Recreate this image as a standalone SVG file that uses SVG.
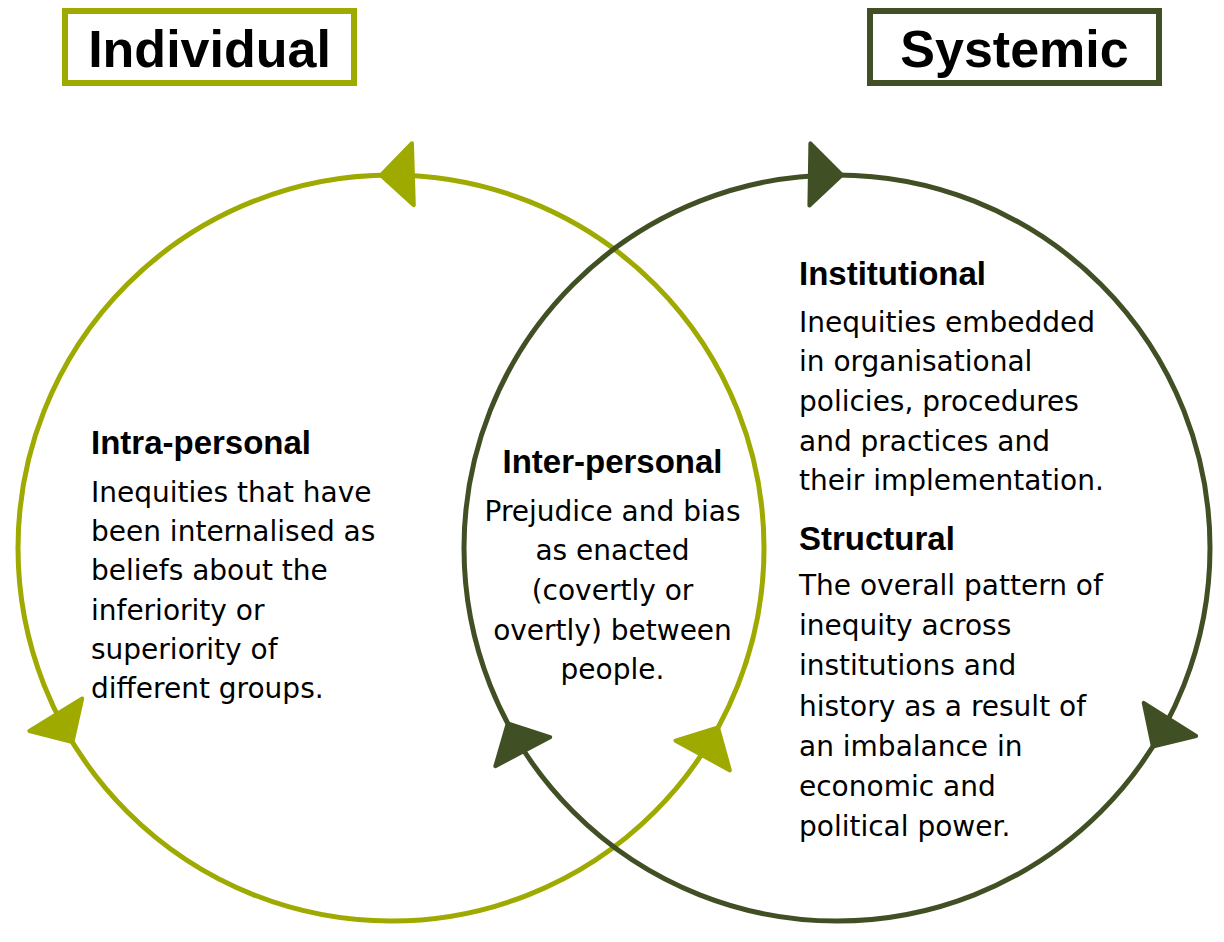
<svg xmlns="http://www.w3.org/2000/svg" xmlns:xlink="http://www.w3.org/1999/xlink" width="1224" height="942" viewBox="0 0 1224 942">
  <style>
    .title { font-family: "Liberation Sans", Arial, sans-serif; font-weight: bold; font-size: 52px; fill: #000; text-anchor: middle; }
    .head { font-family: "Liberation Sans", Arial, sans-serif; font-weight: bold; font-size: 33px; fill: #000; }
    .body { font-family: "DejaVu Sans", "Liberation Sans", sans-serif; font-size: 28px; fill: #000; }
    .mid { text-anchor: middle; }
    .light { stroke: #9FAA00; }
    .dark { stroke: #404F24; }
    .ring { fill: none; stroke-width: 5; }
    .ahL { fill: #9FAA00; stroke: #9FAA00; stroke-width: 4; stroke-linejoin: round; }
    .ahD { fill: #404F24; stroke: #404F24; stroke-width: 4; stroke-linejoin: round; }
  </style>
  <defs>
    <path id="arrowhead" d="M-1,0 L-33,-31 L-33,31 Z"/>
  </defs>
  <rect width="1224" height="942" fill="#ffffff"/>

  <g id="individual-label">
    <rect x="65" y="11" width="289" height="72" fill="#ffffff" stroke="#9FAA00" stroke-width="6"/>
    <text class="title" x="209.5" y="67">Individual</text>
  </g>
  <g id="systemic-label">
    <rect x="870" y="11" width="289" height="72" fill="#ffffff" stroke="#404F24" stroke-width="6"/>
    <text class="title" x="1014.5" y="67">Systemic</text>
  </g>

  <g id="connectors">
    <circle id="individual-cycle" class="ring light" cx="391" cy="548" r="373"/>
    <circle id="systemic-cycle" class="ring dark" cx="837" cy="548" r="373"/>
    <use xlink:href="#arrowhead" href="#arrowhead" class="ahL" transform="translate(379.9,175.2) rotate(178.3)"/>
    <use xlink:href="#arrowhead" href="#arrowhead" class="ahL" transform="translate(73,742.9) rotate(58.5)"/>
    <use xlink:href="#arrowhead" href="#arrowhead" class="ahL" transform="translate(718.5,726.6) rotate(-61.4)"/>
    <use xlink:href="#arrowhead" href="#arrowhead" class="ahD" transform="translate(842.9,175) rotate(0.9)"/>
    <use xlink:href="#arrowhead" href="#arrowhead" class="ahD" transform="translate(1152.3,747.3) rotate(122.3)"/>
    <use xlink:href="#arrowhead" href="#arrowhead" class="ahD" transform="translate(507.3,722.5) rotate(242.1)"/>
  </g>

  <g id="intra-personal">
    <text class="head" x="91" y="454">Intra-personal</text>
    <text class="body" x="91" y="501.7">Inequities that have</text>
    <text class="body" x="91" y="541">been internalised as</text>
    <text class="body" x="91" y="580.3">beliefs about the</text>
    <text class="body" x="91" y="619.6">inferiority or</text>
    <text class="body" x="91" y="659">superiority of</text>
    <text class="body" x="91" y="698.3">different groups.</text>
  </g>

  <g id="inter-personal">
    <text class="head mid" x="612.5" y="473">Inter-personal</text>
    <text class="body mid" x="612.5" y="520.7">Prejudice and bias</text>
    <text class="body mid" x="612.5" y="560.3">as enacted</text>
    <text class="body mid" x="612.5" y="599.9">(covertly or</text>
    <text class="body mid" x="612.5" y="639.5">overtly) between</text>
    <text class="body mid" x="612.5" y="679.1">people.</text>
  </g>

  <g id="institutional">
    <text class="head" x="799" y="285">Institutional</text>
    <text class="body" x="799" y="331.7">Inequities embedded</text>
    <text class="body" x="799" y="371.3">in organisational</text>
    <text class="body" x="799" y="410.9">policies, procedures</text>
    <text class="body" x="799" y="450.5">and practices and</text>
    <text class="body" x="799" y="490.1">their implementation.</text>
  </g>

  <g id="structural">
    <text class="head" x="799" y="550">Structural</text>
    <text class="body" x="799" y="595">The overall pattern of</text>
    <text class="body" x="799" y="635.2">inequity across</text>
    <text class="body" x="799" y="675.4">institutions and</text>
    <text class="body" x="799" y="715.6">history as a result of</text>
    <text class="body" x="799" y="755.8">an imbalance in</text>
    <text class="body" x="799" y="796">economic and</text>
    <text class="body" x="799" y="836.2">political power.</text>
  </g>
</svg>
